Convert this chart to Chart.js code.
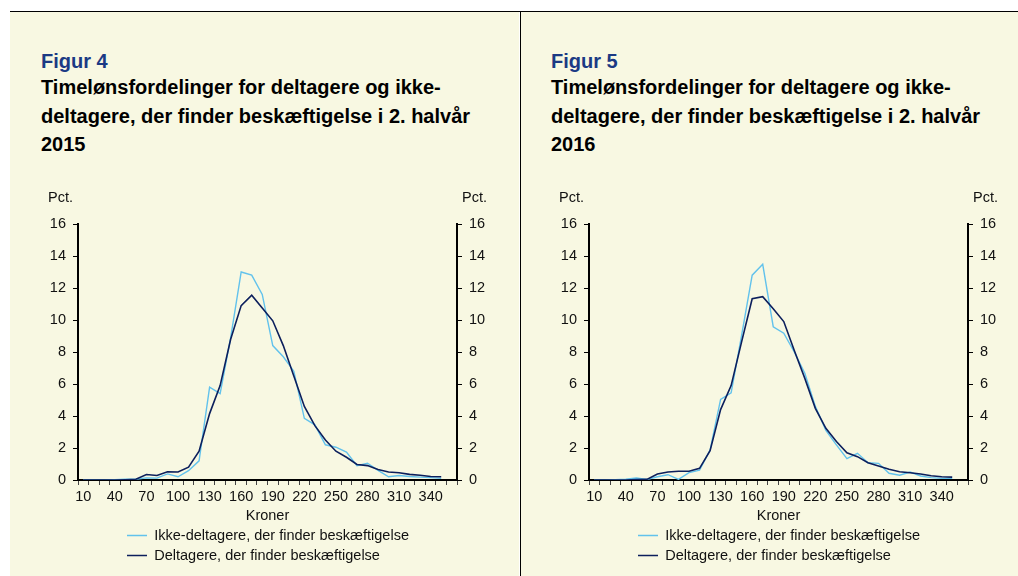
<!DOCTYPE html>
<html>
<head>
<meta charset="utf-8">
<script src="https://cdn.jsdelivr.net/npm/chart.js@4.4.0/dist/chart.umd.min.js"></script>
<style>
html, body { margin: 0; padding: 0; background: #fff; overflow: hidden; }
body { width: 1018px; height: 576px; position: relative; font-family: "Liberation Sans", Arial, sans-serif; }
.panel { position: absolute; top: 12px; bottom: 0; background: #f8f8e2; }
#p1 { left: 10px; width: 509px; }
#p2 { left: 521px; width: 497px; }
.rule { position: absolute; left: 10px; right: 0; top: 10.5px; height: 1.5px; background: #000; }
.divider { position: absolute; left: 519.5px; top: 11px; bottom: 0; width: 1.5px; background: #000; }
.fig { position: absolute; left: 31px; top: 38.8px; font-weight: bold; font-size: 20px; line-height: 1; color: #1b3a84; }
.head { position: absolute; left: 31px; top: 61.2px; font-weight: bold; font-size: 20px; line-height: 28.4px; color: #000; white-space: nowrap; }
#p2 .fig, #p2 .head { left: 30px; }
canvas { position: absolute; left: 0; top: 168px; }
</style>
</head>
<body>
<div class="panel" id="p1">
  <div class="fig">Figur 4</div>
  <div class="head">Timelønsfordelinger for deltagere og ikke-<br>deltagere, der finder beskæftigelse i 2. halvår<br>2015</div>
  <canvas id="chart2015" width="497" height="396"></canvas>
</div>
<div class="panel" id="p2">
  <div class="fig">Figur 5</div>
  <div class="head">Timelønsfordelinger for deltagere og ikke-<br>deltagere, der finder beskæftigelse i 2. halvår<br>2016</div>
  <canvas id="chart2016" width="497" height="396"></canvas>
</div>
<div class="rule"></div>
<div class="divider"></div>
<script>
// timeløn i kroner (intervaller)
var kroner = [10, 20, 30, 40, 50, 60, 70, 80, 90, 100, 110, 120, 130, 140, 150, 160, 170, 180,
              190, 200, 210, 220, 230, 240, 250, 260, 270, 280, 290, 300, 310, 320, 330, 340, 350, 360];
var yTicks = [0, 2, 4, 6, 8, 10, 12, 14, 16];

// pct. - 2015
var deltagere2015 = [0, 0, 0, 0, 0.02, 0.05, 0.34, 0.28, 0.51, 0.5, 0.8, 1.8, 4.15, 5.9, 8.8, 10.9, 11.55, 10.75,
                     9.95, 8.4, 6.5, 4.6, 3.4, 2.5, 1.8, 1.42, 0.97, 0.9, 0.65, 0.5, 0.45, 0.35, 0.3, 0.22, 0.2];
var ikke2015 = [0, 0, 0, 0.02, 0.05, 0.05, 0.13, 0.12, 0.38, 0.2, 0.58, 1.2, 5.8, 5.4, 8.9, 13.0, 12.8, 11.6,
                8.4, 7.7, 6.8, 3.85, 3.45, 2.2, 2.05, 1.75, 0.9, 1.05, 0.6, 0.2, 0.28, 0.22, 0.18, 0.15, 0.1];

// pct. - 2016
var deltagere2016 = [0, 0, 0, 0, 0.03, 0.04, 0.38, 0.5, 0.55, 0.55, 0.73, 1.83, 4.4, 5.9, 8.65, 11.33, 11.46, 10.7,
                     9.9, 8.1, 6.35, 4.48, 3.23, 2.4, 1.7, 1.46, 1.08, 0.87, 0.67, 0.52, 0.45, 0.37, 0.27, 0.2, 0.18];
var ikke2016 = [0, 0, 0.02, 0.05, 0.12, 0.03, 0.2, 0.33, 0.04, 0.46, 0.62, 1.87, 5.04, 5.45, 9.06, 12.8, 13.48, 9.58,
                9.17, 8.0, 6.67, 4.6, 3.1, 2.2, 1.33, 1.67, 1.08, 1.04, 0.42, 0.3, 0.5, 0.25, 0.15, 0.1, 0.1];

var navy = '#0c1f5c';
var sky = '#62c2ec';

Chart.defaults.font.family = '"Liberation Sans", Arial, sans-serif';
Chart.defaults.font.size = 14.5;
Chart.defaults.color = '#111';

// "Pct." over begge y-akser
var pctLabels = {
    id: 'pctLabels',
    afterDraw: function(chart) {
        var ctx = chart.ctx, a = chart.chartArea;
        ctx.save();
        ctx.font = '14.5px "Liberation Sans", Arial, sans-serif';
        ctx.fillStyle = '#111';
        ctx.textBaseline = 'middle';
        ctx.textAlign = 'right';
        ctx.fillText('Pct.', a.left - 5, a.top - 26);
        ctx.textAlign = 'left';
        ctx.fillText('Pct.', a.right + 5, a.top - 26);
        ctx.restore();
    }
};

// legend venstrestillet under diagrammet
var legendShift = {
    id: 'legendShift',
    afterLayout: function(chart) {
        chart.legend.left = chart.chartArea.left + 49 - 5.5;
    }
};

function yAxis(pos, w) {
    return {
        position: pos,
        min: 0,
        max: 16,
        afterBuildTicks: function(s) { s.ticks = yTicks.map(function(v) { return { value: v }; }); },
        afterFit: function(s) { s.width = w; },
        ticks: { padding: 7 },
        grid: { drawOnChartArea: false, color: '#000', tickLength: 5 },
        border: { color: '#000', width: 2 }
    };
}

function drawPanel(id, dark, light) {
    return new Chart(document.getElementById(id), {
        type: 'line',
        data: {
            labels: kroner,
            datasets: [{
                label: 'Deltagere, der finder beskæftigelse',
                data: dark,
                borderColor: navy,
                backgroundColor: navy,
                borderWidth: 1.6,
                pointRadius: 0
            }, {
                label: 'Ikke-deltagere, der finder beskæftigelse',
                data: light,
                borderColor: sky,
                backgroundColor: sky,
                borderWidth: 1.4,
                pointRadius: 0
            }]
        },
        options: {
            responsive: false,
            animation: false,
            layout: { padding: { top: 44, bottom: 3.25, left: 0, right: 0 } },
            plugins: {
                tooltip: { enabled: false },
                legend: {
                    position: 'bottom',
                    fullSize: false,
                    align: 'start',
                    reverse: true,
                    labels: { boxWidth: 20, boxHeight: 0, padding: 5.5, color: '#111' }
                }
            },
            scales: {
                x: {
                    offset: true,
                    afterFit: function(s) { s.height = 42.75; },
                    grid: { offset: true, drawOnChartArea: false, color: '#444', tickLength: 5 },
                    border: { color: '#000', width: 2 },
                    ticks: {
                        autoSkip: false,
                        maxRotation: 0,
                        padding: 3.5,
                        callback: function(v, i) { return i % 3 === 0 ? this.getLabelForValue(v) : ''; }
                    },
                    title: { display: true, text: 'Kroner', padding: { top: 0, bottom: -2 } }
                },
                y: yAxis('left', 68),
                y2: yAxis('right', 50)
            }
        },
        plugins: [pctLabels, legendShift]
    });
}

drawPanel('chart2015', deltagere2015, ikke2015);
drawPanel('chart2016', deltagere2016, ikke2016);
</script>
</body>
</html>
